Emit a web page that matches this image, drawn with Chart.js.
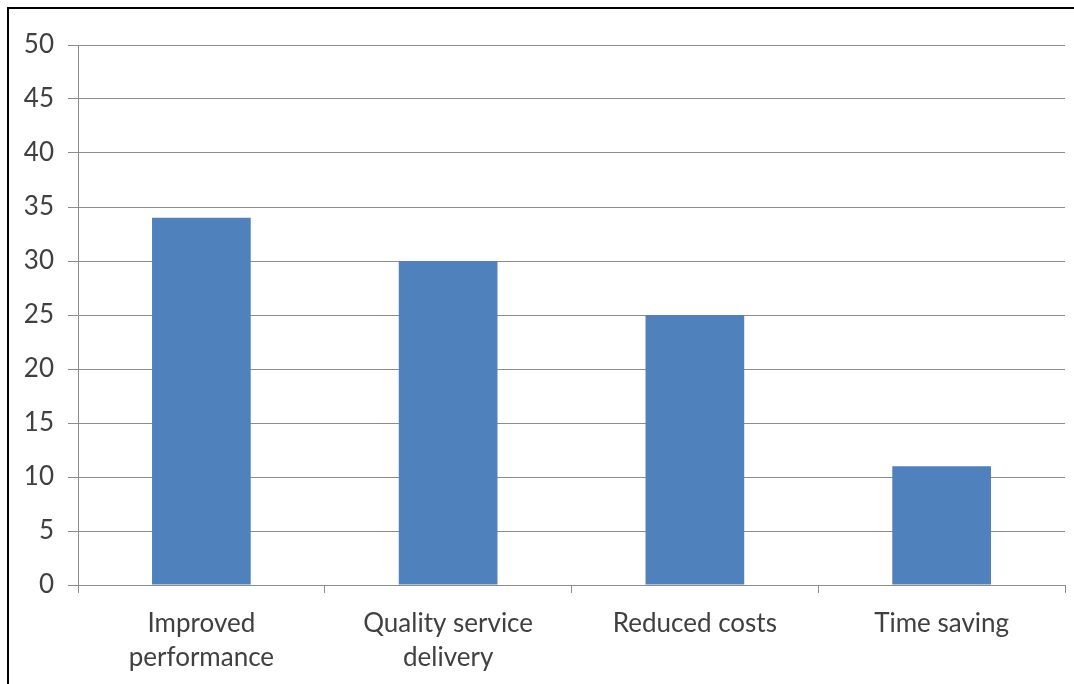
<!DOCTYPE html>
<html>
<head>
<meta charset="utf-8">
<script src="https://cdn.jsdelivr.net/npm/chart.js@4/dist/chart.umd.min.js"></script>
<style>
  html, body { margin: 0; padding: 0; background: #fff; }
  #wrap { position: relative; width: 1074px; height: 684px; }
</style>
</head>
<body>
<div id="wrap"><canvas id="chart" width="1074" height="684"></canvas></div>
<script>
// Benefits and their counts
const categories = [['Improved', 'performance'], ['Quality service', 'delivery'], 'Reduced costs', 'Time saving'];
const counts = [34, 30, 25, 11];
const yTicks = [0, 5, 10, 15, 20, 25, 30, 35, 40, 45, 50];

const axisGray = '#8c8c8c';
const textColor = '#404040';
const font = { family: 'Lato, "Open Sans", sans-serif', size: 26, lineHeight: 1.3 };

// frame line on the top and left of the canvas
const framePlugin = {
  id: 'frame',
  beforeDraw(chart) {
    const ctx = chart.ctx;
    ctx.save();
    ctx.fillStyle = '#fff';
    ctx.fillRect(0, 0, chart.width, chart.height);
    ctx.strokeStyle = '#000';
    ctx.lineWidth = 2;
    ctx.beginPath();
    ctx.moveTo(8, chart.height);
    ctx.lineTo(8, 8);
    ctx.lineTo(chart.width, 8);
    ctx.stroke();
    ctx.restore();
  }
};

new Chart(document.getElementById('chart'), {
  type: 'bar',
  data: {
    labels: categories,
    datasets: [{
      data: counts,
      backgroundColor: '#4f81bd',
      borderWidth: 0,
      categoryPercentage: 1,
      barPercentage: 0.4
    }]
  },
  options: {
    responsive: false,
    animation: false,
    layout: { padding: { top: 45, right: 9, left: 0, bottom: 0 } },
    plugins: { legend: { display: false }, tooltip: { enabled: false } },
    scales: {
      x: {
        grid: { offset: true, drawOnChartArea: false, drawTicks: true, tickLength: 8, color: axisGray },
        border: { color: axisGray, width: 1 },
        ticks: { color: textColor, font: font, padding: 14, maxRotation: 0 },
        afterFit(scale) { scale.height = 99; }
      },
      y: {
        min: 0,
        max: 50,
        afterBuildTicks(scale) { scale.ticks = yTicks.map(v => ({ value: v })); },
        grid: { color: axisGray, tickLength: 10 },
        border: { color: axisGray, width: 1 },
        ticks: { color: textColor, font: font, padding: 14 },
        afterFit(scale) { scale.width = 78; }
      }
    }
  },
  plugins: [framePlugin]
});
</script>
</body>
</html>
